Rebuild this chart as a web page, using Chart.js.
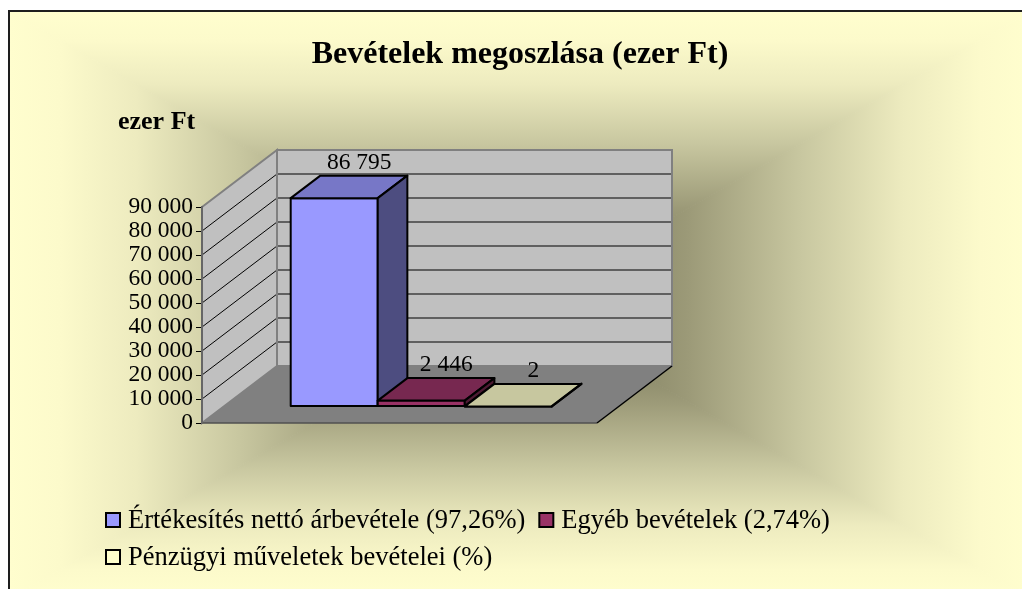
<!DOCTYPE html>
<html>
<head>
<meta charset="utf-8">
<title>Bevételek megoszlása</title>
<script src="https://cdn.jsdelivr.net/npm/chart.js@4.4.1/dist/chart.umd.min.js"></script>
<style>
  html, body { margin: 0; padding: 0; background: #fff; }
  canvas { display: block; }
</style>
</head>
<body>
<canvas id="myChart" width="1022" height="589"></canvas>
<script>
var categories = [""];
var seriesNames = ["Értékesítés nettó árbevétele (97,26%)", "Egyéb bevételek (2,74%)", "Pénzügyi műveletek bevételei (%)"];
var seriesValues = [86795, 2446, 2];
var seriesColors = ["#9999FF", "#993366", "#FFFFCC"];
var yTicks = [0, 10000, 20000, 30000, 40000, 50000, 60000, 70000, 80000, 90000];
var yTickLabels = ["0", "10 000", "20 000", "30 000", "40 000", "50 000", "60 000", "70 000", "80 000", "90 000"];
var axisTitle = "ezer Ft";
var chartTitle = "Bevételek megoszlása (ezer Ft)";

// oblique depth of the 3D box, and where the bars sit inside it
var depthX = 75, depthY = -57;
var barFront = 0.29, barDepth = 0.395;
var serif = '"Liberation Serif", "Times New Roman", serif';

function fmt(v) {
  return String(v).replace(/\B(?=(\d{3})+(?!\d))/g, " ");
}

function shade(hex, f) {
  var n = parseInt(hex.slice(1), 16);
  var r = Math.round(((n >> 16) & 255) * f), g = Math.round(((n >> 8) & 255) * f), b = Math.round((n & 255) * f);
  return "rgb(" + r + "," + g + "," + b + ")";
}

function poly(ctx, pts, fill, stroke, lw) {
  ctx.beginPath();
  ctx.moveTo(pts[0][0], pts[0][1]);
  for (var i = 1; i < pts.length; i++) ctx.lineTo(pts[i][0], pts[i][1]);
  ctx.closePath();
  if (fill) { ctx.fillStyle = fill; ctx.fill(); }
  if (stroke) { ctx.strokeStyle = stroke; ctx.lineWidth = lw || 1; ctx.stroke(); }
}

function line(ctx, x1, y1, x2, y2, color, lw) {
  ctx.beginPath();
  ctx.moveTo(x1, y1);
  ctx.lineTo(x2, y2);
  ctx.strokeStyle = color;
  ctx.lineWidth = lw || 1;
  ctx.stroke();
}

var backdrop = {
  id: "backdrop",
  beforeDraw: function (chart) {
    var ctx = chart.ctx;
    var L = 9, T = 11, R = 1031, B = 599, cx = (L + R) / 2, cy = (T + B) / 2;
    ctx.save();
    ctx.beginPath();
    ctx.rect(L, T, chart.width - L, chart.height - T);
    ctx.clip();
    // rectangular "from centre" gradient, one triangle per edge
    var tris = [[L, T, R, T, cx, T], [R, T, R, B, R, cy], [R, B, L, B, cx, B], [L, B, L, T, L, cy]];
    tris.forEach(function (t) {
      var g = ctx.createLinearGradient(cx, cy, t[4], t[5]);
      g.addColorStop(0, "rgb(104,103,76)");
      g.addColorStop(0.33, "rgb(156,154,120)");
      g.addColorStop(0.55, "rgb(200,199,160)");
      g.addColorStop(0.75, "rgb(237,235,191)");
      g.addColorStop(0.9, "rgb(252,250,203)");
      g.addColorStop(1, "rgb(255,254,206)");
      poly(ctx, [[cx, cy], [t[0], t[1]], [t[2], t[3]]], g, g, 1);
    });
    ctx.restore();
    line(ctx, 9, chart.height, 9, 11, "#1e1e1e", 2);
    line(ctx, 8, 11, chart.width, 11, "#1e1e1e", 2);

    // walls and floor of the 3D box
    var a = chart.chartArea, ys = chart.scales.y;
    var yb = ys.getPixelForValue(ys.min), yt = ys.getPixelForValue(ys.max);
    var x0 = a.left, x1 = a.right;
    poly(ctx, [[x0 + depthX, yt + depthY], [x1 + depthX, yt + depthY], [x1 + depthX, yb + depthY], [x0 + depthX, yb + depthY]], "#C0C0C0");
    poly(ctx, [[x0, yt], [x0 + depthX, yt + depthY], [x0 + depthX, yb + depthY], [x0, yb]], "#C0C0C0");
    poly(ctx, [[x0, yb], [x1, yb], [x1 + depthX, yb + depthY], [x0 + depthX, yb + depthY]], "#808080");
    yTicks.forEach(function (v, i) {
      if (i === 0 || i === yTicks.length - 1) return;
      var y = ys.getPixelForValue(v);
      line(ctx, x0, y, x0 + depthX, y + depthY, "#000", 1);
      line(ctx, x0 + depthX, y + depthY, x1 + depthX, y + depthY, "#000", 1);
    });
    poly(ctx, [[x0 + depthX, yt + depthY], [x1 + depthX, yt + depthY], [x1 + depthX, yb + depthY], [x0 + depthX, yb + depthY]], null, "#808080", 2);
    poly(ctx, [[x0, yt], [x0 + depthX, yt + depthY], [x0 + depthX, yb + depthY], [x0, yb]], null, "#808080", 2);
    line(ctx, x0, yb, x1, yb, "#505050", 1.5);
    line(ctx, x1, yb, x1 + depthX, yb + depthY, "#000", 1.5);
  }
};

var prisms = {
  id: "prisms",
  beforeDatasetDraw: function () { return false; },
  afterDatasetsDraw: function (chart) {
    var ctx = chart.ctx;
    var dx = depthX * barDepth, dy = depthY * barDepth;
    var labels = [];
    chart.data.datasets.forEach(function (ds, i) {
      chart.getDatasetMeta(i).data.forEach(function (bar, j) {
        var p = bar.getProps(["x", "y", "base", "width"], true);
        var l = p.x - p.width / 2 + depthX * barFront, r = l + p.width;
        var top = p.y + depthY * barFront, bot = p.base + depthY * barFront;
        var c = ds.backgroundColor;
        ctx.save();
        ctx.lineJoin = "round";
        poly(ctx, [[l, top], [r, top], [r, bot], [l, bot]], c, "#000", 2);
        poly(ctx, [[l, top], [l + dx, top + dy], [r + dx, top + dy], [r, top]], shade(c, 0.78), "#000", 2);
        poly(ctx, [[r, top], [r + dx, top + dy], [r + dx, bot + dy], [r, bot]], shade(c, 0.5), "#000", 2);
        ctx.restore();
        labels.push([fmt(ds.data[j]), (l + r) / 2 + 25, top + dy - 7]);
      });
    });
    ctx.save();
    ctx.font = "23.5px " + serif;
    ctx.fillStyle = "#000";
    ctx.textAlign = "center";
    ctx.textBaseline = "alphabetic";
    labels.forEach(function (t) { ctx.fillText(t[0], t[1], t[2]); });
    ctx.restore();
  },
  afterDraw: function (chart) {
    var ctx = chart.ctx;
    ctx.save();
    ctx.fillStyle = "#000";
    ctx.textBaseline = "alphabetic";
    ctx.font = "bold 26px " + serif;
    ctx.fillText(axisTitle, 118, 129);

    // legend, flowing left to right and wrapping
    ctx.font = "26.5px " + serif;
    var x = 106, y = 528, maxX = 1000;
    chart.data.datasets.forEach(function (ds) {
      var w = 23 + ctx.measureText(ds.label).width;
      if (x > 106 && x + w > maxX) { x = 106; y += 37; }
      ctx.fillStyle = ds.backgroundColor;
      ctx.fillRect(x, y - 15, 14, 14);
      ctx.strokeStyle = "#000";
      ctx.lineWidth = 2;
      ctx.strokeRect(x, y - 15, 14, 14);
      ctx.fillStyle = "#000";
      ctx.fillText(ds.label, x + 22, y);
      x += w + 13;
    });
    ctx.restore();
  }
};

Chart.defaults.font.family = serif;
Chart.defaults.color = "#000";

var ctx = document.getElementById("myChart").getContext("2d");
var chart = new Chart(ctx, {
  type: "bar",
  data: {
    labels: categories,
    datasets: seriesNames.map(function (name, i) {
      return { label: name, data: [seriesValues[i]], backgroundColor: seriesColors[i] };
    })
  },
  options: {
    responsive: false,
    animation: false,
    layout: { padding: { left: 18, right: 0, top: 0, bottom: 166 } },
    datasets: { bar: { categoryPercentage: 0.661, barPercentage: 1 } },
    plugins: {
      legend: { display: false },
      tooltip: { enabled: false },
      title: {
        display: true,
        text: chartTitle,
        font: { size: 32, weight: "bold", lineHeight: 1.2 },
        padding: { top: 36, bottom: 132.6 }
      }
    },
    scales: {
      x: { display: false },
      y: {
        min: 0,
        max: 90000,
        afterFit: function (scale) { scale.width = 184; },
        grid: { drawOnChartArea: false, drawTicks: true, tickLength: 6, color: "#000" },
        border: { display: true, color: "#666", width: 2 },
        ticks: {
          stepSize: 10000,
          autoSkip: false,
          padding: 3,
          font: { size: 23.5, lineHeight: 1 },
          callback: function (v) {
            var i = yTicks.indexOf(v);
            return i >= 0 ? yTickLabels[i] : "";
          }
        }
      },
      // empty right-hand axis that only reserves the space right of the plot
      side: {
        type: "linear",
        position: "right",
        afterFit: function (scale) { scale.width = 425; },
        grid: { display: false },
        border: { display: false },
        ticks: { display: false }
      }
    }
  },
  plugins: [backdrop, prisms]
});
</script>
</body>
</html>
